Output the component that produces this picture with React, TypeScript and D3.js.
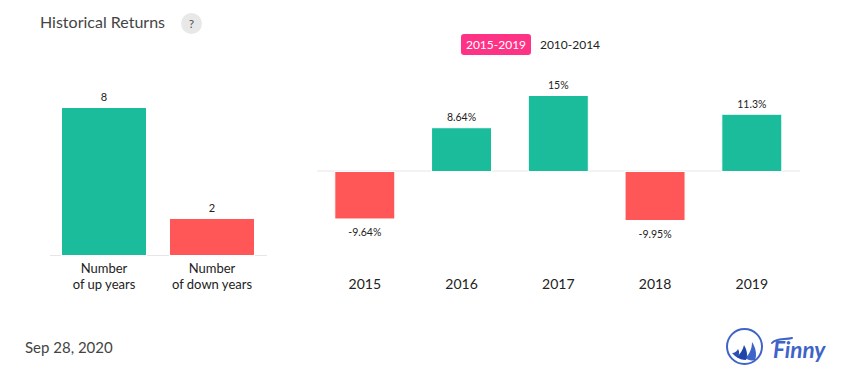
import React from "react";
import * as d3 from "d3";

const summaryLabels = [["Number", "of up years"], ["Number", "of down years"]];
const summaryValues = [8, 2];
const years = ["2015", "2016", "2017", "2018", "2019"];
const returns = [-9.64, 8.64, 15, -9.95, 11.3];
const returnLabels = ["-9.64%", "8.64%", "15%", "-9.95%", "11.3%"];
const tabs = ["2015-2019", "2010-2014"];

const GREEN = "#1abc9c";
const RED = "#ff5757";
const BLUE = "#3f64c8";
const FONT = "Lato, sans-serif";

export default function App() {
  const xL = d3.scaleBand<number>().domain(d3.range(summaryValues.length)).range([61.5, 254.5]).paddingInner(23 / 108).paddingOuter(0);
  const yL = d3.scaleLinear().domain([0, 8]).range([255.5, 107.5]);
  const xR = d3.scaleBand().domain(years).range([334.8, 781.8]).paddingInner(0.38).paddingOuter(0);
  const yR = d3.scaleLinear().domain([-9.95, 0, 15]).range([220.5, 171.5, 95.5]);
  return (
    <svg width={855} height={382} style={{ position: "absolute", left: 0, top: 0, background: "#fff" }} fontFamily={FONT}>
      <text x={40} y={28} fontSize={16} fill="#444">Historical Returns</text>
      <circle cx={191.5} cy={23.5} r={10.5} fill="#e8e8e8" />
      <text x={191.5} y={28} fontSize={12} fill="#555" textAnchor="middle">?</text>

      <rect x={461} y={34} width={70} height={21} rx={3} fill="#ff3385" />
      <text x={496} y={49} fontSize={12} fill="#fff" textAnchor="middle">{tabs[0]}</text>
      <text x={570} y={49} fontSize={12} fill="#222" textAnchor="middle">{tabs[1]}</text>

      <line x1={50} x2={267} y1={255.5} y2={255.5} stroke="#e6e6e6" />
      {summaryValues.map((v, i) => {
        const x = xL(i)!;
        const w = xL.bandwidth();
        return (
          <g key={i}>
            <rect x={x} y={yL(v)} width={w} height={yL(0) - yL(v)} fill={i === 0 ? GREEN : RED} stroke="#fff" />
            <text x={x + w / 2} y={yL(v) - 6.5} fontSize={11} fill="#222" textAnchor="middle">{v}</text>
            {summaryLabels[i].map((s, j) => (
              <text key={j} x={x + w / 2} y={273 + j * 16} fontSize={13} fill="#222" textAnchor="middle">{s}</text>
            ))}
          </g>
        );
      })}

      <line x1={317} x2={800} y1={171} y2={171} stroke="#e6e6e6" />
      {returns.map((v, i) => {
        const x = xR(years[i])!;
        const w = xR.bandwidth();
        const c = x + w / 2;
        const y = yR(v);
        return (
          <g key={years[i]}>
            <rect x={x} y={Math.min(y, yR(0))} width={w} height={Math.abs(y - yR(0))} fill={v >= 0 ? GREEN : RED} stroke="#fff" />
            <text x={c} y={v >= 0 ? y - 6.5 : y + 17} fontSize={10.5} fill="#222" textAnchor="middle">{returnLabels[i]}</text>
            <text x={c} y={289} fontSize={14} fill="#222" textAnchor="middle">{years[i]}</text>
          </g>
        );
      })}

      <text x={25} y={353} fontSize={15} fill="#444">Sep 28, 2020</text>

      <circle cx={744.5} cy={346.5} r={17.5} fill="none" stroke={BLUE} strokeWidth={2} />
      <path d="M752 342 C756 348 757 355 755 360 C751 361 748 360 745 358 C750 354 752 348 752 342 Z" fill={BLUE} />
      <path d="M744 345 C747 350 748 355 746 360 C742 360 739 359 737 357 C740 354 743 350 744 345 Z" fill="#1f45a8" />
      <path d="M738 349 C740 352 739 355 738 358 C736 357 734 355 732 353 C735 353 737 351 738 349 Z" fill="#2a50b4" />
      <path d="M772 343 C776 338 785 340 792 338" fill="none" stroke={BLUE} strokeWidth={2} strokeLinecap="round" />
      <text x={773} y={358} fontSize={22.5} fontWeight={700} fontStyle="italic" fill={BLUE}>Finny</text>
    </svg>
  );
}
